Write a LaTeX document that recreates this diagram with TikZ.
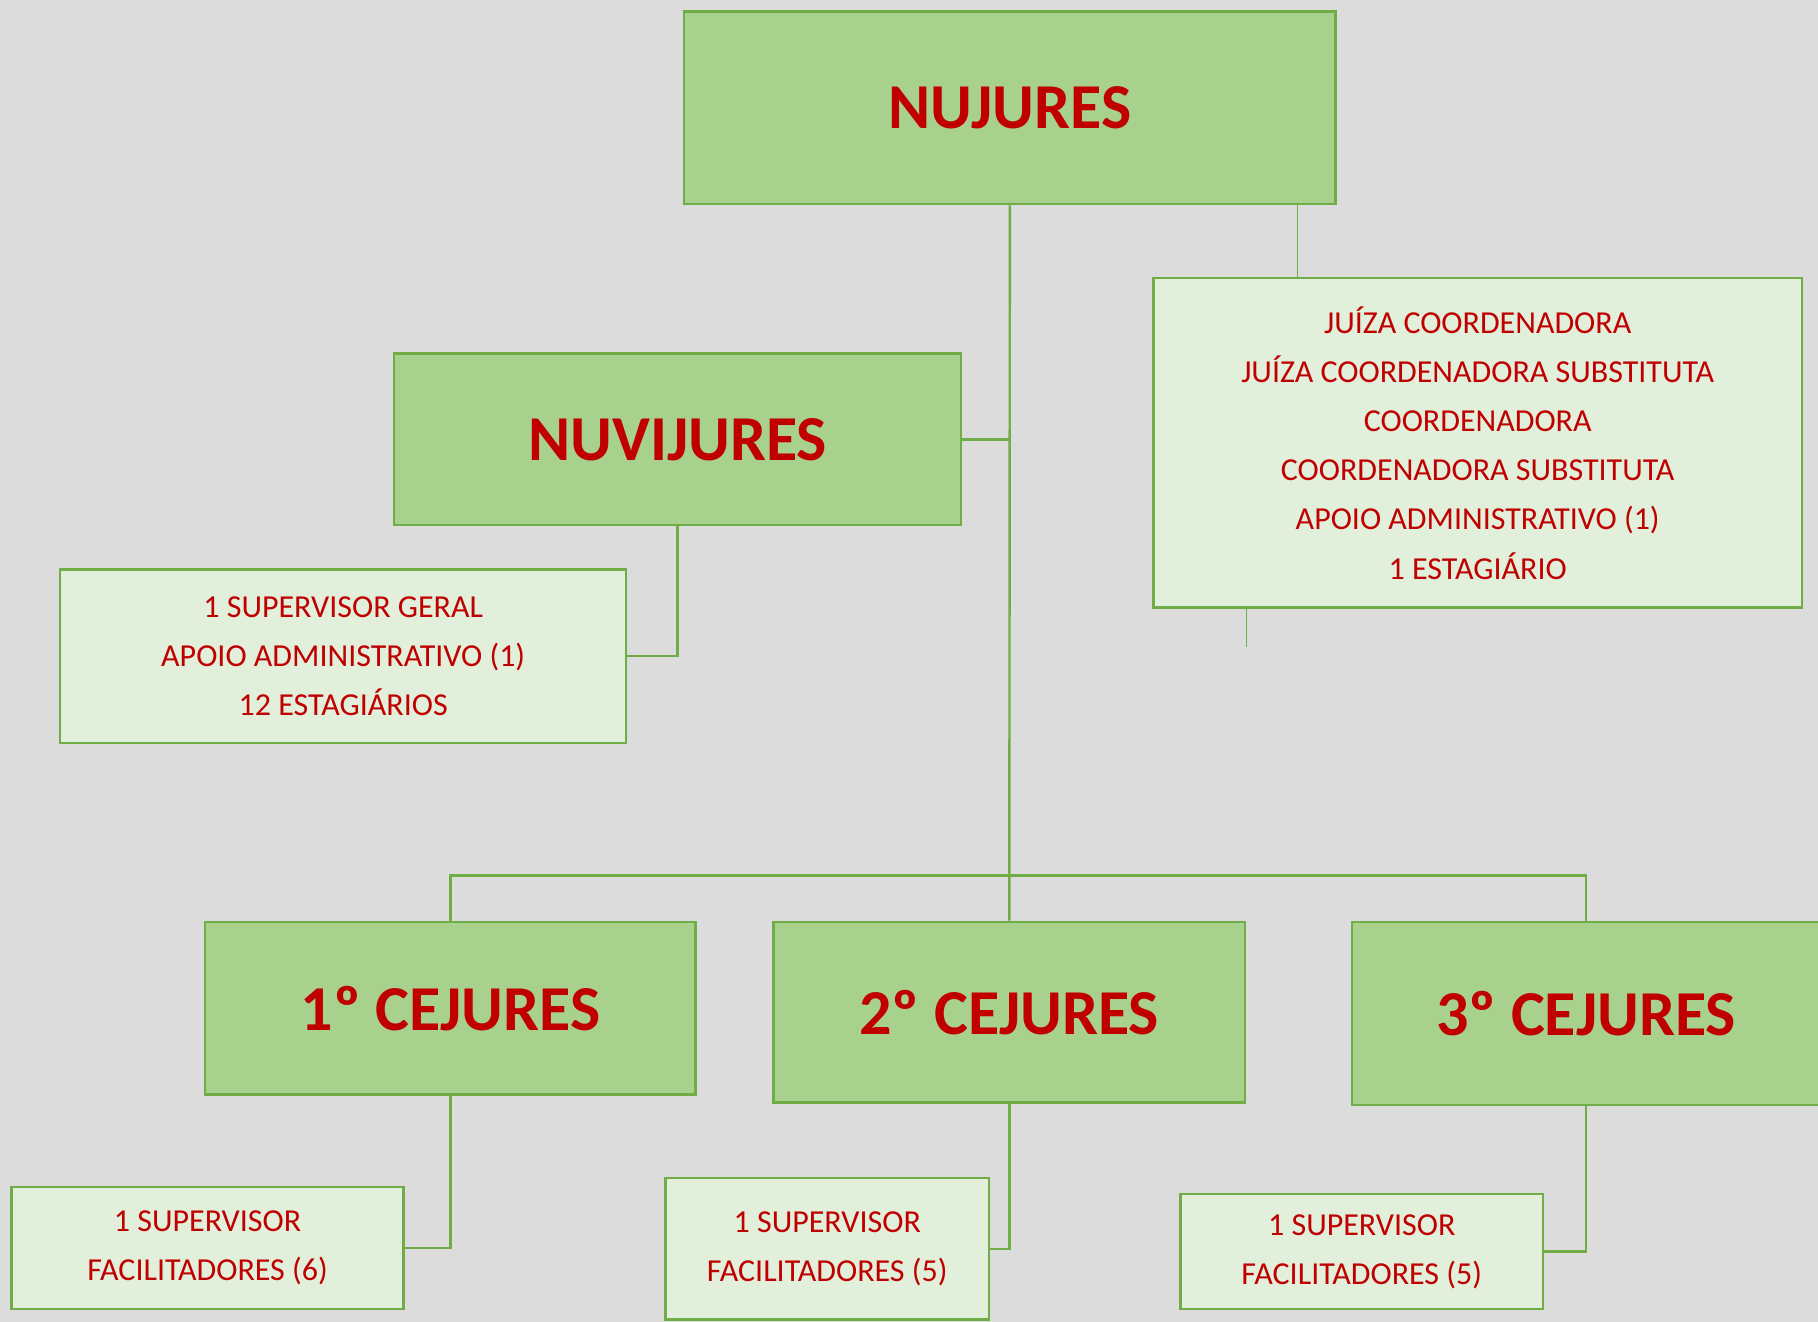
\documentclass[tikz,border=0pt]{standalone}
\usepackage{fontspec}
\setmainfont{Carlito}
\usetikzlibrary{positioning}

\definecolor{bggray}{HTML}{DCDCDC}
\definecolor{darkleaf}{HTML}{A9D18E}
\definecolor{lightleaf}{HTML}{E2EFDA}
\definecolor{leafline}{HTML}{70AD47}
\definecolor{textred}{HTML}{C00000}
\def\unitpx{0.5797pt}

\begin{document}
\begin{tikzpicture}[x=0.5797pt,y=-0.5797pt,
  every node/.style={inner sep=.5mm,text=textred,align=center},
  unitbox/.style={draw=leafline,line width=1.2pt,fill=darkleaf,font=\fontsize{32}{36}\selectfont\bfseries},
  infobox/.style={draw=leafline,line width=1.2pt,fill=lightleaf,font=\fontsize{16}{24.6}\selectfont},
  link/.style={draw=leafline,line width=1.2pt},
  thinlink/.style={draw=leafline,line width=.6pt}]

 \fill[bggray] (0,0) rectangle (1568,1140);
 \clip (0,0) rectangle (1568,1140);

 \node[unitbox,minimum width=562*\unitpx,minimum height=166*\unitpx] (nujures) at (871,93) {NUJURES};
 \node[infobox,minimum width=559*\unitpx,minimum height=284*\unitpx] (coord) at (1274.5,382)
   {JUÍZA COORDENADORA\\JUÍZA COORDENADORA SUBSTITUTA\\COORDENADORA\\COORDENADORA SUBSTITUTA\\APOIO ADMINISTRATIVO (1)\\1 ESTAGIÁRIO};
 \node[unitbox,minimum width=489*\unitpx,minimum height=148*\unitpx] (nuvijures) at (584.5,379) {NUVIJURES};
 \node[infobox,minimum width=488*\unitpx,minimum height=150*\unitpx] (nuviinfo) at (296,566)
   {1 SUPERVISOR GERAL\\APOIO ADMINISTRATIVO (1)\\12 ESTAGIÁRIOS};

 \node[unitbox,minimum width=423*\unitpx,minimum height=149*\unitpx] (c1) at (388.5,869.5) {1º CEJURES};
 \node[unitbox,minimum width=407*\unitpx,minimum height=156*\unitpx] (c2) at (870.5,873) {2º CEJURES};
 \node[unitbox,minimum width=404*\unitpx,minimum height=158*\unitpx] (c3) at (1368,874) {3º CEJURES};

 \node[infobox,minimum width=338*\unitpx,minimum height=105*\unitpx] (c1info) at (179,1076.5) {1 SUPERVISOR\\FACILITADORES (6)};
 \node[infobox,minimum width=279*\unitpx,minimum height=122*\unitpx] (c2info) at (713.5,1077) {1 SUPERVISOR\\FACILITADORES (5)};
 \node[infobox,minimum width=313*\unitpx,minimum height=99*\unitpx] (c3info) at (1174.5,1079.5) {1 SUPERVISOR\\FACILITADORES (5)};

 \coordinate (bus) at (871,755);
 \coordinate (tap) at (1119,176);
 \coordinate (stub) at (1075,558);

 % trunk and branches
 \path[link] (nujures.south) -- (c2.north);
 \path[link] (nuvijures.east) -- (nuvijures.east -| nujures.south);
 \path[link] (c1.north) |- (bus) -| (c3.north);
 \path[thinlink] (tap) -- (tap |- coord.north);
 \path[thinlink] (stub |- coord.south) -- (stub);

 % staff boxes
 \foreach \f/\t in {nuvijures/nuviinfo,c1/c1info,c2/c2info,c3/c3info}
  \path[link] (\f.south) |- (\t.east);
\end{tikzpicture}
\end{document}
